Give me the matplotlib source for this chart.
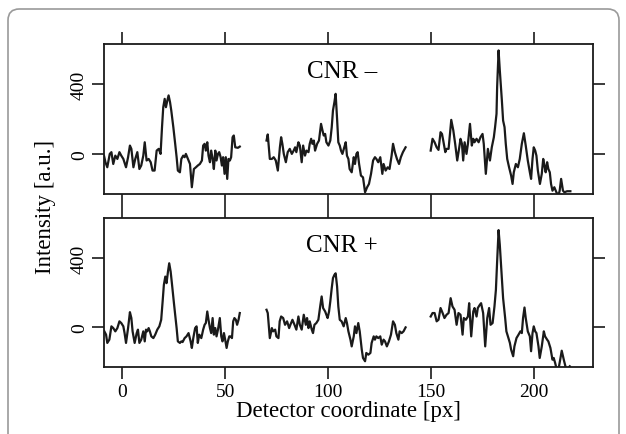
import numpy as np
import matplotlib
matplotlib.use("Agg")
import matplotlib.pyplot as plt
from matplotlib.patches import FancyBboxPatch

plt.rcParams['font.family'] = ['Liberation Serif', 'DejaVu Serif']

# panel "CNR -" : three detector segments
x_minus_1 = [-9.9, -8.9, -8.2, -7.3, -6.1, -5.3, -4.4, -3.4, -2.4, -1.4, -0.5, 0.5, 1.8, 2.8, 3.7, 4.4,
             5.4, 6.3, 7.3, 8.3, 9.2, 10.2, 10.9, 11.8, 12.8, 13.8, 14.7, 15.7, 16.7, 17.7, 18.6, 19.3,
             19.9, 20.6, 21.2, 21.9, 22.5, 23.2, 23.8, 24.8, 25.7, 26.4, 27.0, 28.0, 28.7, 29.6, 30.3,
             30.9, 31.9, 32.9, 33.8, 34.8, 35.8, 36.7, 37.7, 38.7, 39.3, 40.0, 40.6, 41.3, 41.9, 42.6,
             43.2, 43.9, 44.5, 45.2, 45.8, 46.5, 47.1, 47.8, 48.4, 49.0, 49.7, 50.3, 51.0, 51.6, 52.3,
             52.9, 53.6, 54.2, 54.9, 56.2, 57.1]
y_minus_1 = [-19, -10, -48, -77, 0, 10, -58, -10, -29, 10, -10, -29, -77, -19, 48, 29,
             -77, -29, 10, -87, -67, -10, 67, -38, -29, -48, -96, -96, 19, 29, 0, 154,
             269, 317, 269, 308, 337, 298, 250, 154, 58, -19, -96, -106, -29, -10, -19,
             0, -29, -58, -192, -87, -77, -67, -58, -38, 48, 58, 19, 67, -10, -48,
             19, -29, -87, 19, -38, 0, 10, -19, -67, -19, -115, -19, -144, -29, -38,
             -19, 96, 106, 38, 35, 42]

x_minus_2 = [70.1, 70.7, 71.7, 72.7, 73.6, 74.6, 75.6, 76.6, 77.2, 77.8, 78.5, 79.5, 80.4, 81.4, 82.4,
             83.3, 84.0, 84.6, 85.6, 86.3, 87.2, 87.9, 88.8, 89.5, 90.5, 91.1, 91.8, 92.4, 93.1, 93.7,
             94.7, 95.6, 96.6, 97.3, 97.9, 98.6, 99.2, 100.2, 101.1, 101.8, 102.4, 103.1, 103.7, 104.4,
             105.0, 105.7, 106.3, 107.0, 107.9, 108.6, 109.2, 109.9, 110.5, 111.5, 112.5, 113.1, 113.8,
             114.4, 115.1, 116.0, 117.0, 118.0, 119.0, 119.9, 120.9, 121.9, 122.8, 123.5, 124.4, 125.4,
             126.4, 127.0, 128.0, 129.0, 129.9, 130.9, 131.6, 132.5, 133.5, 134.5, 135.4, 136.4, 137.7]
y_minus_2 = [77, 112, -29, -29, -19, -38, -96, 38, 96, 58, 0, -48, 10, 29, 0,
             19, 38, 10, 67, 48, -48, 48, -10, 19, 10, 58, 87, 58, 77, 19,
             58, 77, 173, 135, 106, 115, 67, 48, 77, 154, 250, 298, 346, 202,
             67, 48, 19, 0, 38, 67, -10, -29, -87, -106, -19, -58, 0,
             10, -58, -125, -135, -221, -192, -173, -115, -38, -19, -29, -48, -19,
             -115, -58, -96, -77, -87, -10, 58, 10, -29, -58, -19, 10, 38]

x_minus_3 = [149.9, 150.8, 151.8, 152.8, 153.7, 154.7, 155.4, 156.0, 157.0, 157.6, 158.6, 159.9, 160.9,
             161.8, 162.8, 163.8, 164.4, 165.1, 165.7, 166.4, 167.3, 168.0, 169.0, 169.9, 170.6, 171.2,
             172.2, 173.2, 174.1, 175.1, 175.7, 176.7, 177.7, 178.7, 179.6, 180.6, 181.2, 181.9, 182.2,
             182.9, 183.5, 184.5, 185.1, 185.8, 186.4, 187.1, 188.0, 189.0, 189.7, 190.3, 191.3, 192.3,
             193.2, 194.2, 195.2, 196.1, 197.1, 198.1, 198.7, 199.4, 200.0, 200.7, 201.3, 202.0, 203.0,
             203.9, 204.6, 205.2, 205.8, 206.5, 207.1, 207.8, 208.4, 209.1, 210.0, 211.0, 212.0, 212.6,
             213.3, 214.2, 214.9, 216.2, 217.8]
y_minus_3 = [19, 87, 67, 38, 23, 125, 115, 77, 10, 29, 29, 196, 135,
             58, -38, 38, 87, 58, -38, 67, 0, 58, 173, 48, 87, 67,
             87, 67, 96, 115, 58, -115, 29, -38, 38, 96, 154, 231, 385,
             596, 481, 308, 192, 154, 58, -29, -77, -125, -173, -106, -58, -77,
             -29, 58, 119, 48, -38, -106, -144, -29, 38, 19, -10, -96, -173,
             -115, -29, -67, -106, -48, -87, -106, -173, -212, -192, -221, -240, -212,
             -144, -212, -221, -215, -215]

# panel "CNR +"
x_plus_1 = [-9.9, -8.9, -7.9, -7.3, -6.3, -5.3, -4.4, -3.4, -2.4, -1.4, -0.5, 0.5, 1.1, 1.8, 2.8, 3.7,
            4.4, 5.0, 6.0, 7.0, 7.6, 8.3, 9.2, 10.2, 10.9, 11.5, 12.1, 12.8, 13.4, 14.1, 15.1, 16.0,
            17.0, 18.0, 18.9, 19.6, 20.2, 20.9, 21.5, 22.2, 22.8, 23.5, 24.1, 25.1, 25.7, 26.4, 27.0,
            28.0, 28.7, 29.3, 30.3, 31.2, 32.2, 33.2, 33.8, 34.5, 35.4, 36.1, 36.7, 37.4, 38.4, 39.3,
            40.0, 40.6, 41.3, 41.9, 42.6, 43.2, 43.9, 44.5, 45.2, 45.8, 46.5, 47.4, 48.1, 48.7, 49.4,
            50.0, 50.7, 51.3, 52.0, 52.6, 53.3, 53.9, 54.5, 55.2, 55.8, 56.5, 57.1]
y_plus_1 = [-23, -19, -42, -90, -71, 6, -4, -23, -4, 35, 25, 6, -33, -90, -4, 88,
            54, -23, -90, -33, -13, -90, -71, -23, -81, -13, -23, -4, -23, -52, -62, -42,
            -13, 6, 44, 150, 246, 294, 256, 323, 371, 323, 256, 140, 73, -4, -81,
            -90, -81, -85, -62, -52, -33, -81, -119, -62, -4, 6, -90, -42, -62, -13,
            15, 25, 92, 44, -4, -33, 54, -42, -4, -52, -13, 54, -52, -81, -33,
            -71, -119, -81, -52, -52, -62, 35, 54, 44, 15, 44, 83]

x_plus_2 = [70.1, 70.7, 71.7, 72.7, 73.3, 74.3, 74.9, 75.9, 76.5, 77.2, 78.2, 79.1, 80.1, 81.1, 81.7,
            82.7, 83.7, 84.6, 85.6, 86.3, 87.2, 88.2, 89.2, 89.8, 90.5, 91.1, 92.1, 92.7, 93.4, 94.3,
            95.3, 96.3, 96.9, 97.6, 98.6, 99.2, 99.8, 100.5, 101.1, 101.8, 102.4, 103.1, 103.7, 104.4,
            105.0, 105.7, 106.6, 107.6, 108.6, 109.2, 109.9, 110.9, 111.5, 112.5, 113.1, 113.8, 114.7,
            115.4, 116.4, 117.0, 118.0, 118.6, 119.6, 120.6, 121.2, 122.2, 122.8, 123.5, 124.4, 125.4,
            126.1, 127.0, 127.7, 128.6, 129.6, 130.6, 131.6, 132.5, 133.2, 134.2, 134.8, 135.8, 136.7, 137.7]
y_plus_2 = [102, 83, -62, -4, -23, -13, -52, -62, 35, 63, 54, 15, 35, -4, 15,
            44, 15, -13, 63, 15, -13, 73, 15, 54, -4, 35, -13, -33, 15, 25,
            44, 131, 179, 112, 92, 73, 54, 92, 150, 227, 285, 304, 313, 237,
            121, 44, 35, 6, 54, 25, -23, -71, -110, -52, 6, -33, 25,
            -23, -129, -177, -196, -148, -158, -148, -90, -52, -71, -52, -62, -52,
            -100, -71, -81, -110, -81, -42, 35, 15, -33, -71, -23, -33, -23, 0]

x_plus_3 = [149.9, 150.8, 151.8, 152.8, 153.7, 154.7, 155.7, 156.6, 157.6, 158.6, 159.6, 160.5, 161.5,
            162.5, 163.4, 164.4, 165.4, 166.0, 167.0, 168.0, 168.6, 169.6, 170.6, 171.2, 172.2, 172.8,
            173.8, 174.4, 175.4, 176.4, 177.4, 178.3, 179.0, 180.0, 180.9, 181.6, 182.2, 182.9, 183.5,
            184.2, 185.1, 186.1, 186.7, 187.7, 188.4, 189.0, 190.0, 190.6, 191.6, 192.6, 193.5, 194.2,
            194.8, 195.5, 196.1, 197.1, 198.1, 198.7, 199.4, 200.0, 200.7, 201.3, 202.3, 202.9, 203.9,
            204.9, 205.5, 206.5, 207.1, 208.1, 209.1, 209.7, 210.4, 211.0, 212.0, 213.0, 213.6, 214.6,
            215.6, 216.5, 217.5]
y_plus_3 = [63, 83, 83, 35, 44, 112, 83, 54, 73, 83, 169, 121, 102,
            15, 83, 73, -42, 54, 44, 63, 140, -52, 92, 112, 63, 112,
            131, 140, 83, -110, 54, 112, 15, 25, 121, 217, 381, 563, 477,
            342, 169, 54, -23, -62, -90, -129, -167, -110, -62, -42, -23, -33,
            54, 115, 54, -23, -52, -138, -33, 6, -23, -33, -110, -177, -110,
            -23, -52, -71, -81, -119, -187, -177, -206, -235, -244, -177, -135, -187,
            -235, -240, -225]

panels = [
    ("CNR \u2013", [(x_minus_1, y_minus_1), (x_minus_2, y_minus_2), (x_minus_3, y_minus_3)]),
    ("CNR +", [(x_plus_1, y_plus_1), (x_plus_2, y_plus_2), (x_plus_3, y_plus_3)]),
]

W, H = 626, 435
fig = plt.figure(figsize=(W / 100, H / 100), dpi=100)

# rounded frame around the figure (open at the bottom)
frame = FancyBboxPatch((8 / W, -0.05), 611 / W, 1.05 - 10 / H,
                       boxstyle="round,pad=0,rounding_size=0.018", mutation_aspect=W / H,
                       transform=fig.transFigure, fill=False, ec="#9a9a9a", lw=1.2)
fig.patches.append(frame)

boxes = [(45, 195), (219, 368.3)]
left, right = 104, 593
tick_len = 8.6

for i, ((label, segs), (top, bot)) in enumerate(zip(panels, boxes)):
    ax = fig.add_axes([left / W, 1 - bot / H, (right - left) / W, (bot - top) / H])
    for xs, ys in segs:
        ax.plot(xs, ys, color="#1a1a1a", lw=1.6)
    ax.set_xlim(-8.9, 228.8)
    ax.set_ylim(-231, 633)
    ax.set_xticks([0, 50, 100, 150, 200])
    ax.set_yticks([0, 400])
    ax.tick_params(axis="both", direction="out", length=tick_len, width=1.2, color="#1a1a1a",
                   top=True, right=True, labelright=False, labeltop=False,
                   labelbottom=(i == 1), labelsize=14, pad=3)
    for lab in ax.get_yticklabels():
        lab.set_rotation(90)
        lab.set_va("center")
    for sp in ax.spines.values():
        sp.set_linewidth(1.3)
        sp.set_color("#1a1a1a")
    ax.text(0.487, 0.82, label, transform=ax.transAxes, ha="center", va="center", fontsize=18)

fig.text(348.5 / W, 1 - 412 / H, "Detector coordinate [px]", ha="center", va="center", fontsize=16.5)
fig.text(45 / W, 1 - 207 / H, "Intensity [a.u.]", ha="center", va="center", rotation=90, fontsize=16.5)

fig.savefig("out.png", dpi=100)
